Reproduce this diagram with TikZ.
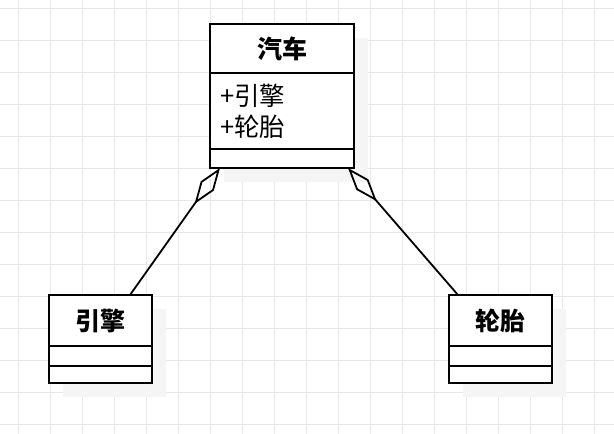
\documentclass[tikz,border=0pt]{standalone}
\usepackage{fontspec}
\newfontfamily\cjk{Noto Sans CJK SC}
\usetikzlibrary{positioning,arrows.meta,backgrounds}

\begin{document}
\begin{tikzpicture}[x=1pt,y=-1pt]
  \useasboundingbox (0,0) rectangle (614,434);
  \tikzstyle{GridStyle}=[draw=black!9,line width=0.8pt]
  \tikzstyle{ShadowStyle}=[fill=black!4]
  \tikzstyle{TitleStyle}=[draw,line width=1.8pt,fill=white,inner sep=0pt,outer sep=0pt,
    font=\cjk\bfseries\fontsize{25}{28}\selectfont]
  \tikzstyle{PartStyle}=[draw,line width=1.8pt,fill=white,inner sep=0pt,outer sep=0pt]
  \tikzstyle{AttrStyle}=[PartStyle,align=left,inner xsep=10pt,
    font=\cjk\fontsize{25.5}{31}\selectfont]
  \tikzstyle{AggrStyle}=[line width=1.8pt,
    -{Diamond[open,length=44pt,width=16pt]}]
  % grid
  \begin{scope}[on background layer]
    \fill[white] (0,0) rectangle (614,434);
    \foreach \x in {18,50,...,614} \draw[GridStyle] (\x,0) -- (\x,434);
    \foreach \y in {8,40,...,434} \draw[GridStyle] (0,\y) -- (614,\y);
  \end{scope}
  % classes
  \node[TitleStyle,minimum width=144pt,minimum height=49pt] (car-title) at (282,48.5) {汽车};
  \node[AttrStyle,text width=124pt,minimum height=76pt,below=0pt of car-title] (car-attr) {+引擎\\+轮胎};
  \node[PartStyle,minimum width=144pt,minimum height=19pt,below=0pt of car-attr] (car-ops) {};
  \node[TitleStyle,minimum width=103pt,minimum height=51pt] (eng-title) at (100.5,320.5) {引擎};
  \node[PartStyle,minimum width=103pt,minimum height=20pt,below=0pt of eng-title] (eng-attr) {};
  \node[PartStyle,minimum width=103pt,minimum height=17pt,below=0pt of eng-attr] (eng-ops) {};
  \node[TitleStyle,minimum width=103pt,minimum height=51pt] (tire-title) at (500.5,320.5) {轮胎};
  \node[PartStyle,minimum width=103pt,minimum height=20pt,below=0pt of tire-title] (tire-attr) {};
  \node[PartStyle,minimum width=103pt,minimum height=17pt,below=0pt of tire-attr] (tire-ops) {};
  % shadows
  \begin{scope}[on background layer]
    \fill[ShadowStyle] ([shift={(14,14)}]car-title.north west) rectangle ([shift={(14,14)}]car-ops.south east);
    \fill[ShadowStyle] ([shift={(14,14)}]eng-title.north west) rectangle ([shift={(14,14)}]eng-ops.south east);
    \fill[ShadowStyle] ([shift={(14,14)}]tire-title.north west) rectangle ([shift={(14,14)}]tire-ops.south east);
  \end{scope}
  % aggregations
  \draw[AggrStyle] ([xshift=81pt]eng-title.north west) -- ([xshift=10pt]car-ops.south west);
  \draw[AggrStyle] ([xshift=9pt]tire-title.north west) -- ([xshift=-6pt]car-ops.south east);
\end{tikzpicture}
\end{document}
